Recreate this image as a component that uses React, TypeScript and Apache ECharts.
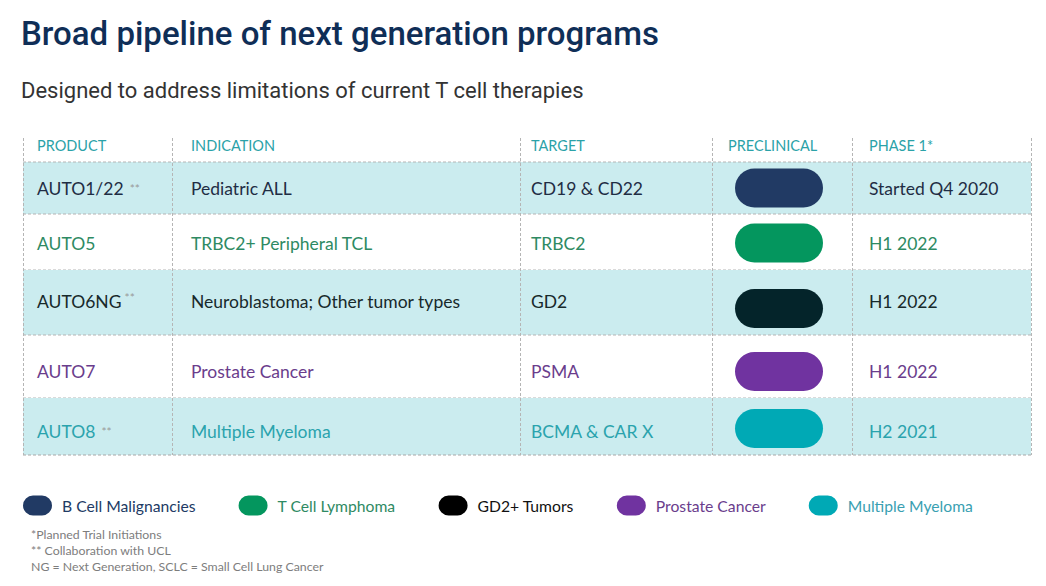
import React, { useEffect, useRef } from "react";
import * as echarts from "echarts";

// ---- data ----
const columns = ["PRODUCT", "INDICATION", "TARGET", "PRECLINICAL", "PHASE 1*"];
const products = ["AUTO1/22", "AUTO5", "AUTO6NG", "AUTO7", "AUTO8"];
const collaboration = [true, false, true, false, true];
const indications = [
  "Pediatric ALL",
  "TRBC2+ Peripheral TCL",
  "Neuroblastoma; Other tumor types",
  "Prostate Cancer",
  "Multiple Myeloma",
];
const targets = ["CD19 & CD22", "TRBC2", "GD2", "PSMA", "BCMA & CAR X"];
const phase1 = ["Started Q4 2020", "H1 2022", "H1 2022", "H1 2022", "H2 2021"];
const groups = [
  "B Cell Malignancies",
  "T Cell Lymphoma",
  "GD2+ Tumors",
  "Prostate Cancer",
  "Multiple Myeloma",
];
// stages reached (1 = preclinical)
const stageReached = [1, 1, 1, 1, 1];
const footnotes = [
  "*Planned Trial Initiations",
  "** Collaboration with UCL",
  "NG = Next Generation, SCLC = Small Cell Lung Cancer",
];

// ---- styles / layout ----
const pillColors = ["#213a64", "#04965e", "#04242a", "#7033a0", "#00a9b5"];
const textColors = ["#1f2d44", "#2e8a63", "#17292b", "#6a3d8c", "#2aa3ad"];
const legendIconColors = ["#213a64", "#04965e", "#000000", "#7033a0", "#00a9b5"];
const legendTextColors = ["#213a64", "#2e8a63", "#111111", "#6a3d8c", "#3a9fb2"];
const ROW_BG = "#cbecef";
const LINE = "#b5b5b5";
const HEADER_COLOR = "#2ba2a8";
const TABLE_FONT = "Lato, 'Open Sans', sans-serif";
const CELL_FONT_SIZE = 17.5;
const TABLE_LEFT = 23;
const TABLE_W = 1008;
const TABLE_TOP = 162;
const ROW_EDGES = [0, 52, 108, 173, 236, 293];
const COL_EDGES = [0, 149, 497, 689, 829, 1008];
const COL_TEXT_X = [14, 168, 508, 705, 846];
const TEXT_DY = [0, 1, -1, 5, 5];
const PILL_DY = [0, 1, 6, 5, 2];
const PILL_X0 = 712;
const PILL_W = 88;
const PILL_H = 39;

export default function App() {
  const ref = useRef<HTMLDivElement>(null);
  useEffect(() => {
    const chart = echarts.init(ref.current!, undefined, { renderer: "svg" });

    const renderItem = (params: any, api: any) => {
      const i = api.value(1);
      const [xL, yT] = api.coord([0, ROW_EDGES[i]]);
      const [xR, yB] = api.coord([TABLE_W, ROW_EDGES[i + 1]]);
      const cy = (yT + yB) / 2 + TEXT_DY[i];
      const col = (c: number) => api.coord([COL_TEXT_X[c], 0])[0];
      const children: any[] = [];
      if (i % 2 === 0) {
        children.push({
          type: "rect",
          shape: { x: xL, y: yT, width: xR - xL, height: yB - yT },
          style: { fill: ROW_BG },
        });
      }
      if (i === 0) {
        children.push({
          type: "line",
          shape: { x1: xL, y1: yT, x2: xR, y2: yT },
          style: { stroke: LINE, lineDash: [3, 2], lineWidth: 1 },
        });
      }
      children.push({
        type: "line",
        shape: { x1: xL, y1: yB, x2: xR, y2: yB },
        style: { stroke: i === 4 ? "#a8a8a8" : LINE, lineDash: [3, 2], lineWidth: 1 },
      });
      const tColor = textColors[i];
      children.push({
        type: "text",
        style: {
          x: col(0),
          y: cy,
          text: collaboration[i]
            ? `{p|${products[i]}}{s|${i === 2 ? " **" : "  **"}}`
            : `{p|${products[i]}}`,
          verticalAlign: "middle",
          rich: {
            p: { fontSize: CELL_FONT_SIZE, fontFamily: TABLE_FONT, fill: tColor },
            s: {
              fontSize: 12,
              fontFamily: TABLE_FONT,
              fill: "#9a9a9a",
              verticalAlign: i === 2 ? "top" : "middle",
              padding: i === 2 ? [0, 0, 8, 0] : 0,
            },
          },
        },
      });
      [indications[i], targets[i]].forEach((t, k) => {
        children.push({
          type: "text",
          style: {
            x: col(k + 1),
            y: cy,
            text: t,
            verticalAlign: "middle",
            fontSize: CELL_FONT_SIZE,
            fontFamily: TABLE_FONT,
            fill: tColor,
          },
        });
      });
      children.push({
        type: "text",
        style: {
          x: col(4),
          y: cy,
          text: phase1[i],
          verticalAlign: "middle",
          fontSize: CELL_FONT_SIZE,
          fontFamily: TABLE_FONT,
          fill: tColor,
        },
      });
      const px0 = api.coord([PILL_X0, 0])[0];
      const pw = PILL_W * stageReached[i];
      const pcy = (yT + yB) / 2 + PILL_DY[i];
      children.push({
        type: "rect",
        shape: { x: px0, y: pcy - PILL_H / 2, width: pw, height: PILL_H, r: PILL_H / 2 },
        style: { fill: api.visual("color") },
      });
      return { type: "group", children };
    };

    const series = groups.map((g, i) => ({
      type: "custom",
      name: g,
      coordinateSystem: "cartesian2d",
      renderItem,
      itemStyle: { color: pillColors[i] },
      data: [[0, i]],
      encode: { x: 0, y: 1 },
      clip: false,
      silent: true,
    }));

    const graphic: any[] = [];
    COL_EDGES.forEach((x) => {
      graphic.push({
        type: "line",
        z: 50,
        shape: { x1: TABLE_LEFT + x + 0.5, y1: 138, x2: TABLE_LEFT + x + 0.5, y2: TABLE_TOP + ROW_EDGES[5] },
        style: { stroke: LINE, lineDash: [3, 2], lineWidth: 1 },
      });
    });
    columns.forEach((c, k) => {
      graphic.push({
        type: "text",
        z: 50,
        x: TABLE_LEFT + (k === 3 ? 705 : COL_TEXT_X[k]),
        y: 145,
        style: {
          text: c,
          fontSize: 14.5,
          fontFamily: TABLE_FONT,
          fill: HEADER_COLOR,
          verticalAlign: "middle",
        },
      });
    });
    footnotes.forEach((f, k) => {
      graphic.push({
        type: "text",
        z: 50,
        x: 31,
        y: 534 + k * 16,
        style: {
          text: f,
          fontSize: 12.3,
          fontFamily: TABLE_FONT,
          fill: "#7d7d7d",
          verticalAlign: "middle",
        },
      });
    });

    const option: any = {
      animation: false,
      backgroundColor: "#ffffff",
      title: [
        {
          text: "Broad pipeline of next generation programs",
          left: 21,
          top: 17,
          padding: 0,
          textStyle: {
            fontFamily: "Roboto, sans-serif",
            fontSize: 33,
            fontWeight: 500,
            color: "#0f2e57",
          },
        },
        {
          text: "Designed to address limitations of current T cell therapies",
          left: 21,
          top: 79,
          padding: 0,
          textStyle: {
            fontFamily: "Roboto, sans-serif",
            fontSize: 22,
            fontWeight: "normal",
            color: "#333333",
          },
        },
      ],
      grid: {
        left: TABLE_LEFT,
        top: TABLE_TOP,
        width: TABLE_W,
        height: ROW_EDGES[5],
      },
      xAxis: { type: "value", min: 0, max: TABLE_W, show: false },
      yAxis: { type: "value", min: 0, max: ROW_EDGES[5], inverse: true, show: false },
      legend: {
        left: 23,
        top: 495.5,
        padding: 0,
        itemWidth: 29,
        itemHeight: 21,
        itemGap: 43,
        icon: "path://M10,0 L19,0 A10,10 0 0 1 19,20 L10,20 A10,10 0 0 1 10,0 Z",
        selectedMode: false,
        textStyle: { fontFamily: TABLE_FONT, fontSize: 15.7, padding: [0, 0, 0, 5] },
        data: groups.map((g, i) => ({
          name: g,
          itemStyle: { color: legendIconColors[i] },
          textStyle: { color: legendTextColors[i] },
        })),
      },
      graphic,
      series,
    };
    chart.setOption(option);
    return () => chart.dispose();
  }, []);
  return (
    <div
      ref={ref}
      style={{ position: "fixed", left: 0, top: 0, width: 1046, height: 586, background: "#fff" }}
    />
  );
}
